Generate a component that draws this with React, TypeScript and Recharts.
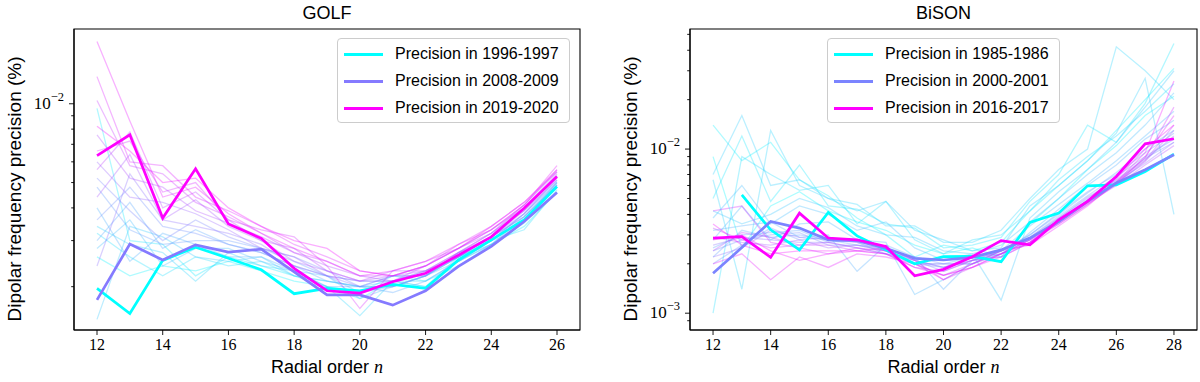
import { LineChart, Line, XAxis, YAxis, ReferenceArea } from 'recharts';

// Radial orders on the x axis
const GOLF_N = [12, 13, 14, 15, 16, 17, 18, 19, 20, 21, 22, 23, 24, 25, 26];
const BISON_N = [12, 13, 14, 15, 16, 17, 18, 19, 20, 21, 22, 23, 24, 25, 26, 27, 28];

const GOLF_XTICKS = [12, 14, 16, 18, 20, 22, 24, 26];
const BISON_XTICKS = [12, 14, 16, 18, 20, 22, 24, 26, 28];

const GOLF_YTICKS = [0.002, 0.003, 0.004, 0.005, 0.006, 0.007, 0.008, 0.009, 0.01];
const BISON_YTICKS = [
  0.0009, 0.001, 0.002, 0.003, 0.004, 0.005, 0.006, 0.007, 0.008, 0.009,
  0.01, 0.02, 0.03, 0.04, 0.05,
];

// all precisions below are in units of 1e-3 %
const GOLF_1996 = [1.97, 1.58, 2.52, 2.83, 2.57, 2.32, 1.88, 1.97, 1.93, 2.04, 1.97, 2.53, 3.02, 3.6, 4.83];
const GOLF_2008 = [1.78, 2.91, 2.53, 2.89, 2.71, 2.78, 2.28, 1.86, 1.86, 1.7, 1.93, 2.39, 2.85, 3.55, 4.58];
const GOLF_2019 = [6.34, 7.61, 3.66, 5.64, 3.47, 3.06, 2.35, 1.93, 1.89, 2.09, 2.25, 2.64, 3.1, 3.99, 5.27];

const GOLF_FAINT_YEARS = [
  1997, 1998, 1999, 2000, 2001, 2002, 2003, 2004, 2005, 2006, 2007,
  2009, 2010, 2011, 2012, 2013, 2014, 2015, 2016, 2017, 2018,
];
const GOLF_FAINT = [
  [2.6, 2.2, 2.4, 2.3, 2.5, 2.3, 2.1, 2.0, 1.8, 2.1, 2.0, 2.5, 2.9, 3.4, 4.6],
  [9.6, 3.0, 2.9, 2.2, 2.6, 2.4, 2.2, 2.0, 1.9, 2.2, 2.1, 2.4, 2.9, 3.5, 4.8],
  [3.2, 2.6, 2.2, 2.6, 2.4, 2.5, 2.2, 2.1, 2.0, 2.0, 2.2, 2.6, 3.0, 3.3, 4.7],
  [3.4, 2.9, 2.7, 2.1, 2.7, 2.4, 2.3, 2.0, 1.55, 2.1, 2.1, 2.5, 3.0, 3.6, 5.0],
  [1.5, 3.4, 3.1, 2.6, 2.5, 2.6, 2.2, 2.1, 2.0, 2.1, 2.0, 2.6, 2.9, 3.6, 4.9],
  [2.8, 3.6, 2.4, 2.8, 2.8, 2.5, 2.3, 2.2, 1.8, 2.0, 2.2, 2.5, 3.0, 3.6, 4.8],
  [4.0, 2.5, 3.2, 2.9, 2.6, 2.6, 2.3, 2.0, 2.0, 2.2, 2.2, 2.6, 3.1, 3.7, 5.0],
  [3.0, 4.2, 2.8, 3.3, 2.9, 2.7, 2.4, 2.1, 2.0, 1.9, 2.1, 2.5, 2.9, 3.7, 4.9],
  [4.8, 3.3, 2.9, 3.0, 3.0, 2.8, 2.5, 2.2, 1.9, 2.0, 2.2, 2.6, 3.0, 3.8, 5.1],
  [3.6, 4.8, 3.4, 3.2, 2.9, 2.7, 2.4, 2.2, 2.1, 2.1, 2.3, 2.6, 3.1, 3.7, 4.9],
  [5.2, 3.9, 3.0, 3.6, 3.1, 2.8, 2.6, 2.3, 2.0, 2.0, 2.2, 2.7, 3.0, 3.8, 5.0],
  [2.4, 5.4, 3.6, 3.4, 3.2, 2.9, 2.4, 2.2, 2.0, 2.2, 2.2, 2.7, 3.1, 3.8, 5.2],
  [6.0, 4.4, 4.2, 3.8, 3.3, 2.8, 2.6, 2.2, 2.1, 2.1, 2.3, 2.7, 3.2, 3.9, 5.1],
  [4.4, 6.4, 3.6, 4.3, 3.4, 3.0, 2.5, 2.3, 2.1, 2.2, 2.3, 2.6, 3.1, 3.9, 5.3],
  [7.6, 5.2, 4.8, 3.9, 3.5, 3.1, 2.7, 2.4, 2.2, 2.1, 2.4, 2.8, 3.2, 4.0, 5.4],
  [5.6, 7.8, 4.0, 4.6, 3.6, 3.0, 2.8, 2.3, 2.1, 2.3, 2.3, 2.7, 3.2, 4.1, 5.5],
  [10.3, 5.8, 5.4, 4.2, 3.7, 3.2, 2.7, 2.5, 2.2, 2.2, 2.4, 2.8, 3.3, 4.0, 5.3],
  [6.6, 7.2, 4.6, 5.0, 3.6, 3.3, 3.1, 2.4, 1.65, 2.3, 2.5, 2.8, 3.3, 4.1, 5.6],
  [12.7, 6.0, 5.8, 4.4, 3.9, 3.4, 2.9, 2.6, 2.3, 2.2, 2.4, 2.9, 3.4, 4.2, 5.5],
  [17.3, 8.6, 4.4, 4.8, 3.8, 3.2, 2.8, 2.5, 2.2, 2.3, 2.5, 2.9, 3.3, 4.1, 5.8],
  [8.2, 6.6, 5.0, 5.2, 4.0, 3.4, 3.0, 2.8, 2.3, 2.2, 2.4, 2.8, 3.4, 4.2, 5.6],
];

const BISON_1985 = [null, 5.26, 3.22, 2.43, 4.11, 2.96, 2.43, 2.0, 2.21, 2.22, 2.06, 3.57, 4.07, 5.97, 6.05, 7.3, 9.32];
const BISON_2000 = [1.75, 2.51, 3.62, 3.3, 2.8, 2.77, 2.49, 2.16, 2.11, 2.19, 2.43, 2.87, 3.62, 4.8, 6.21, 7.48, 9.23];
const BISON_2016 = [2.87, 2.93, 2.19, 4.07, 2.87, 2.8, 2.55, 1.69, 1.85, 2.21, 2.77, 2.61, 3.71, 4.8, 6.81, 10.76, 11.56];

const BISON_FAINT_YEARS = [
  1986, 1987, 1988, 1989, 1990, 1991, 1992, 1993, 1994, 1995, 1996, 1997,
  1998, 1999, 2002, 2003, 2005, 2007, 2009, 2011, 2013, 2014, 2015,
];
const BISON_FAINT = [
  [9.0, 2.5, 4.5, 5.5, 4.2, 3.6, 3.2, 2.6, 2.3, 2.5, 2.2, 3.5, 5.0, 7.5, 10.5, 16.0, 21.0],
  [14.0, 8.5, 11.0, 6.5, 5.2, 3.8, 3.0, 2.2, 2.6, 2.4, 2.7, 4.2, 6.0, 8.5, 13.0, 20.0, 31.0],
  [5.0, 12.0, 4.8, 8.0, 4.5, 4.3, 3.5, 3.3, 2.5, 2.6, 2.9, 4.8, 7.0, 14.0, 11.0, 19.0, 44.0],
  [1.0, 9.0, 7.0, 5.6, 6.0, 3.5, 4.8, 2.8, 2.3, 2.8, 3.0, 4.2, 6.5, 9.0, 12.0, 17.0, 25.0],
  [6.5, 1.4, 13.0, 6.0, 5.0, 4.6, 3.4, 3.4, 2.7, 2.7, 3.2, 5.0, 7.5, 10.0, 42.0, 30.0, 20.0],
  [7.0, 16.0, 6.0, 6.5, 5.0, 4.2, 4.8, 3.2, 2.8, 2.4, 2.5, 4.5, 6.0, 8.5, 12.5, 27.0, 4.0],
  [4.2, 3.5, 4.0, 5.0, 4.4, 3.4, 3.0, 2.9, 2.4, 2.3, 1.2, 3.8, 5.5, 7.5, 11.0, 18.0, 30.0],
  [3.8, 6.0, 3.5, 4.5, 4.0, 3.2, 3.6, 2.5, 2.1, 2.3, 2.6, 3.6, 5.0, 7.0, 9.5, 14.0, 22.0],
  [2.8, 4.5, 2.8, 3.5, 3.6, 2.8, 2.7, 1.3, 1.6, 2.0, 2.4, 3.4, 4.6, 6.2, 8.5, 12.0, 17.0],
  [3.2, 3.4, 3.6, 2.9, 3.0, 1.8, 2.6, 2.2, 1.4, 2.1, 2.2, 3.1, 4.3, 6.0, 8.0, 11.5, 15.0],
  [2.5, 3.0, 3.1, 3.2, 2.7, 2.8, 2.4, 2.0, 2.0, 2.2, 2.4, 3.0, 4.0, 5.4, 7.2, 10.0, 13.0],
  [2.2, 3.2, 2.9, 3.0, 2.8, 2.6, 2.5, 2.1, 1.9, 2.1, 2.3, 3.0, 4.1, 5.5, 7.0, 9.5, 12.5],
  [2.0, 2.6, 3.3, 2.8, 2.9, 2.7, 2.3, 2.2, 2.0, 2.0, 2.4, 2.9, 3.9, 5.2, 6.8, 9.0, 11.5],
  [2.4, 2.8, 3.0, 3.1, 2.6, 2.6, 2.4, 2.0, 1.9, 2.2, 2.3, 2.8, 3.8, 5.0, 6.5, 8.8, 11.0],
  [2.6, 2.9, 2.8, 2.7, 2.7, 2.5, 2.3, 2.1, 1.8, 2.1, 2.4, 2.9, 3.8, 5.1, 6.4, 8.6, 12.0],
  [2.2, 2.5, 3.2, 2.9, 2.8, 2.7, 2.4, 2.0, 2.0, 2.0, 2.3, 2.8, 3.7, 4.9, 6.3, 8.2, 11.0],
  [2.9, 2.7, 2.6, 2.8, 2.5, 2.6, 2.4, 2.1, 1.9, 2.1, 2.4, 2.8, 3.6, 4.8, 6.1, 8.4, 13.0],
  [2.4, 3.1, 2.9, 2.6, 2.7, 2.5, 2.3, 2.0, 1.7, 2.0, 2.3, 2.7, 3.6, 4.7, 6.0, 8.0, 10.5],
  [3.3, 2.8, 2.5, 2.6, 2.6, 2.4, 2.3, 1.9, 1.8, 2.1, 2.2, 2.7, 3.5, 4.6, 6.2, 8.5, 14.0],
  [4.2, 4.5, 2.7, 2.5, 2.3, 2.5, 2.4, 2.0, 1.6, 1.9, 2.2, 2.7, 3.6, 4.7, 6.3, 8.8, 18.0],
  [2.0, 2.3, 1.6, 2.2, 1.9, 2.3, 2.2, 2.0, 1.7, 1.9, 2.3, 2.8, 3.5, 4.6, 6.1, 9.0, 16.0],
  [2.8, 3.0, 2.4, 2.1, 2.3, 2.4, 2.5, 2.1, 1.6, 2.0, 2.4, 2.6, 3.4, 4.5, 6.3, 9.5, 26.0],
  [3.5, 2.6, 2.3, 2.4, 2.4, 2.4, 2.3, 1.9, 1.7, 1.9, 2.3, 2.7, 3.6, 4.8, 6.6, 10.0, 14.0],
];

const SANS = '"Liberation Sans", Arial, sans-serif';
const SERIF = '"Liberation Serif", "Times New Roman", serif';

// matplotlib "cool" colormap
function cool(t: number) {
  return `rgb(${Math.round(255 * t)},${Math.round(255 * (1 - t))},255)`;
}

type Bold = { year: number; label: string; values: (number | null)[] };

interface PanelProps {
  title: string;
  left: number;
  ns: number[];
  xDomain: [number, number];
  xTicks: number[];
  yDomain: [number, number];
  yTicks: number[];
  yLabels: Record<string, string>;
  firstYear: number;
  lastYear: number;
  faintYears: number[];
  faint: (number | null)[][];
  bold: Bold[];
  plotLeft: number;
  marginRight: number;
  legendLeft: number;
}

const scale = (v: number | null) => (v == null ? null : v * 1e-3);

function makeYTick(plotLeft: number, labels: Record<string, string>) {
  return (props: any) => {
    const { y, payload } = props;
    const exp = labels[String(payload.value)];
    return (
      <g>
        <line x1={plotLeft - (exp ? 5 : 2.8)} x2={plotLeft} y1={y} y2={y} stroke="#000" strokeWidth={0.9} />
        {exp && (
          <text x={plotLeft - 10} y={y + 5} textAnchor="end" fontFamily={SERIF} fontSize={17} fill="#000">
            10
            <tspan dy={-8} fontSize={12.5}>{exp}</tspan>
          </text>
        )}
      </g>
    );
  };
}

function Panel(p: PanelProps) {
  const rows = p.ns.map((n, i) => {
    const row: Record<string, number | null> = { n };
    p.faint.forEach((s, k) => {
      row['f' + k] = scale(s[i]);
    });
    p.bold.forEach((b, k) => {
      row['b' + k] = scale(b.values[i]);
    });
    return row;
  });
  const span = p.lastYear - p.firstYear;
  const yAxisW = 40;
  const plotCenter = (p.plotLeft + (600 - p.marginRight)) / 2;
  return (
    <div style={{ position: 'absolute', left: p.left, top: 0, width: 600, height: 382 }}>
      <LineChart
        width={600}
        height={382}
        data={rows}
        margin={{ top: 29, right: p.marginRight, left: p.plotLeft - yAxisW, bottom: 22 }}
      >
        <XAxis
          dataKey="n"
          type="number"
          domain={p.xDomain}
          ticks={p.xTicks}
          interval={0}
          allowDataOverflow
          height={30}
          tickSize={5}
          tickMargin={4}
          axisLine={{ stroke: '#000', strokeWidth: 1.1 }}
          tickLine={{ stroke: '#000', strokeWidth: 0.9 }}
          tick={{ fontFamily: SERIF, fontSize: 16, fill: '#000' }}
        />
        <YAxis
          scale="log"
          type="number"
          domain={p.yDomain}
          ticks={p.yTicks}
          interval={0}
          allowDataOverflow
          width={yAxisW}
          tickLine={false}
          axisLine={{ stroke: '#000', strokeWidth: 1.1 }}
          tick={makeYTick(p.plotLeft, p.yLabels)}
        />
        {p.faintYears.map((yr, k) => (
          <Line
            key={'f' + k}
            dataKey={'f' + k}
            stroke={cool((yr - p.firstYear) / span)}
            strokeOpacity={0.33}
            strokeWidth={1.3}
            dot={false}
            isAnimationActive={false}
          />
        ))}
        {p.bold.map((b, k) => (
          <Line
            key={'b' + k}
            dataKey={'b' + k}
            stroke={cool((b.year - p.firstYear) / span)}
            strokeWidth={2.7}
            dot={false}
            isAnimationActive={false}
          />
        ))}
        <ReferenceArea
          x1={p.xDomain[0]}
          x2={p.xDomain[1]}
          y1={p.yDomain[0]}
          y2={p.yDomain[1]}
          ifOverflow="visible"
          fill="none"
          fillOpacity={0}
          stroke="#000"
          strokeWidth={1.1}
          strokeOpacity={1}
        />
      </LineChart>
      <div
        style={{
          position: 'absolute', left: plotCenter - 100, width: 200, top: 3, textAlign: 'center',
          fontFamily: SANS, fontSize: 18, color: '#000',
        }}
      >
        {p.title}
      </div>
      <div
        style={{
          position: 'absolute', left: plotCenter - 150, width: 300, top: 357, textAlign: 'center',
          fontFamily: SANS, fontSize: 18, color: '#000',
        }}
      >
        Radial order <i style={{ fontFamily: SERIF }}>n</i>
      </div>
      <div
        style={{
          position: 'absolute', left: p.plotLeft - 59 - 150, top: 189 - 11, width: 300, height: 22,
          textAlign: 'center', transform: 'rotate(-90deg)', fontFamily: SANS, fontSize: 19,
          color: '#000', whiteSpace: 'nowrap', lineHeight: '22px',
        }}
      >
        Dipolar frequency precision (%)
      </div>
      <div
        style={{
          position: 'absolute', left: p.legendLeft, top: 38, width: 233, height: 85,
          border: '1px solid #cccccc', borderRadius: 4, background: 'rgba(255,255,255,0.8)',
          boxSizing: 'border-box',
        }}
      >
        {p.bold.map((b, k) => (
          <div
            key={k}
            style={{ position: 'absolute', left: 0, top: 4 + k * 27, height: 22, width: 233 }}
          >
            <div
              style={{
                position: 'absolute', left: 6, top: 10, width: 39, height: 3,
                background: cool((b.year - p.firstYear) / span),
              }}
            />
            <div
              style={{
                position: 'absolute', left: 57, top: 0, lineHeight: '22px', fontFamily: SANS,
                fontSize: 16, color: '#000', whiteSpace: 'nowrap',
              }}
            >
              {b.label}
            </div>
          </div>
        ))}
      </div>
    </div>
  );
}

export default function App() {
  return (
    <div style={{ position: 'absolute', left: 0, top: 0, width: 1200, height: 382, background: '#fff' }}>
      <Panel
        title="GOLF"
        left={0}
        ns={GOLF_N}
        xDomain={[11.3, 26.7]}
        xTicks={GOLF_XTICKS}
        yDomain={[0.001366, 0.01931]}
        yTicks={GOLF_YTICKS}
        yLabels={{ '0.01': '−2' }}
        firstYear={1996}
        lastYear={2019}
        faintYears={GOLF_FAINT_YEARS}
        faint={GOLF_FAINT}
        bold={[
          { year: 1996, label: 'Precision in 1996-1997', values: GOLF_1996 },
          { year: 2008, label: 'Precision in 2008-2009', values: GOLF_2008 },
          { year: 2019, label: 'Precision in 2019-2020', values: GOLF_2019 },
        ]}
        plotLeft={74}
        marginRight={20}
        legendLeft={337}
      />
      <Panel
        title="BiSON"
        left={600}
        ns={BISON_N}
        xDomain={[11.2, 28.8]}
        xTicks={BISON_XTICKS}
        yDomain={[0.00079, 0.0539]}
        yTicks={BISON_YTICKS}
        yLabels={{ '0.01': '−2', '0.001': '−3' }}
        firstYear={1985}
        lastYear={2016}
        faintYears={BISON_FAINT_YEARS}
        faint={BISON_FAINT}
        bold={[
          { year: 1985, label: 'Precision in 1985-1986', values: BISON_1985 },
          { year: 2000, label: 'Precision in 2000-2001', values: BISON_2000 },
          { year: 2016, label: 'Precision in 2016-2017', values: BISON_2016 },
        ]}
        plotLeft={90}
        marginRight={3}
        legendLeft={227}
      />
    </div>
  );
}
